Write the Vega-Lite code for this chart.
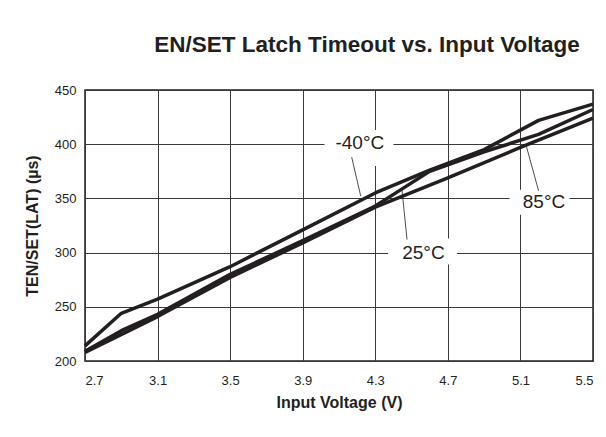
{
  "$schema": "https://vega.github.io/schema/vega-lite/v6.json",
  "autosize": {"type": "none"},
  "padding": {"left": 85, "top": 90, "right": 13, "bottom": 76},
  "width": 508,
  "height": 271,
  "background": "white",
  "title": {
    "text": "EN/SET Latch Timeout vs. Input Voltage",
    "font": "Liberation Sans",
    "fontSize": 22.5,
    "fontWeight": "bold",
    "color": "#231f20",
    "anchor": "middle",
    "dx": 28,
    "offset": 28
  },
  "config": {
    "view": {"stroke": "#231f20", "strokeWidth": 1.5},
    "axis": {
      "domain": false,
      "ticks": false,
      "grid": true,
      "gridColor": "#3a3a3a",
      "gridWidth": 1,
      "labelFont": "Liberation Sans",
      "labelFontSize": 13,
      "labelColor": "#231f20",
      "titleFont": "Liberation Sans",
      "titleFontSize": 16,
      "titleFontWeight": "bold",
      "titleColor": "#231f20"
    }
  },
  "datasets": {
    "curves": [
      {"series": "-40°C", "v": 2.7, "t": 214},
      {"series": "-40°C", "v": 2.9, "t": 244},
      {"series": "-40°C", "v": 3.1, "t": 257},
      {"series": "-40°C", "v": 3.5, "t": 287},
      {"series": "-40°C", "v": 3.9, "t": 321},
      {"series": "-40°C", "v": 4.3, "t": 355},
      {"series": "-40°C", "v": 4.6, "t": 376},
      {"series": "-40°C", "v": 4.9, "t": 395},
      {"series": "-40°C", "v": 5.2, "t": 422},
      {"series": "-40°C", "v": 5.5, "t": 437},
      {"series": "25°C", "v": 2.7, "t": 209},
      {"series": "25°C", "v": 2.9, "t": 228},
      {"series": "25°C", "v": 3.1, "t": 243},
      {"series": "25°C", "v": 3.5, "t": 280},
      {"series": "25°C", "v": 3.9, "t": 311},
      {"series": "25°C", "v": 4.3, "t": 343},
      {"series": "25°C", "v": 4.45, "t": 359},
      {"series": "25°C", "v": 4.6, "t": 375},
      {"series": "25°C", "v": 4.9, "t": 393},
      {"series": "25°C", "v": 5.2, "t": 409},
      {"series": "25°C", "v": 5.5, "t": 432},
      {"series": "85°C", "v": 2.7, "t": 208},
      {"series": "85°C", "v": 3.1, "t": 241},
      {"series": "85°C", "v": 3.5, "t": 277},
      {"series": "85°C", "v": 3.9, "t": 309},
      {"series": "85°C", "v": 4.3, "t": 342},
      {"series": "85°C", "v": 4.7, "t": 369},
      {"series": "85°C", "v": 5.1, "t": 397},
      {"series": "85°C", "v": 5.5, "t": 424}
    ],
    "boxes": [
      {"v1": 4.02, "v2": 4.4, "t1": 380, "t2": 413},
      {"v1": 4.37, "v2": 4.75, "t1": 289, "t2": 313},
      {"v1": 5.04, "v2": 5.37, "t1": 335, "t2": 358}
    ],
    "leaders": [
      {"v1": 4.17, "t1": 388, "v2": 4.22, "t2": 352},
      {"v1": 4.475, "t1": 312, "v2": 4.447, "t2": 358},
      {"v1": 5.2, "t1": 357, "v2": 5.133, "t2": 398}
    ],
    "labels": [
      {"label": "-40°C", "v": 4.215, "t": 401},
      {"label": "25°C", "v": 4.565, "t": 300},
      {"label": "85°C", "v": 5.23, "t": 347}
    ]
  },
  "layer": [
    {
      "data": {"name": "boxes"},
      "mark": {"type": "rect", "fill": "white", "stroke": null},
      "encoding": {
        "x": {"field": "v1", "type": "quantitative", "scale": {"domain": [2.7, 5.5], "nice": false, "zero": false},
          "axis": {"values": [2.7, 3.1, 3.5, 3.9, 4.3, 4.7, 5.1, 5.5], "format": ".1f", "title": "Input Voltage (V)", "labelPadding": 13, "titlePadding": 7}},
        "x2": {"field": "v2"},
        "y": {"field": "t1", "type": "quantitative", "scale": {"domain": [200, 450], "nice": false, "zero": false},
          "axis": {"values": [200, 250, 300, 350, 400, 450], "title": "TEN/SET(LAT) (µs)", "labelPadding": 9, "titlePadding": 14}},
        "y2": {"field": "t2"}
      }
    },
    {
      "data": {"name": "leaders"},
      "mark": {"type": "rule", "color": "#231f20", "strokeWidth": 0.8},
      "encoding": {
        "x": {"field": "v1", "type": "quantitative"},
        "x2": {"field": "v2"},
        "y": {"field": "t1", "type": "quantitative"},
        "y2": {"field": "t2"}
      }
    },
    {
      "data": {"name": "curves"},
      "mark": {"type": "line", "color": "#231f20", "strokeWidth": 3.5, "strokeJoin": "round"},
      "encoding": {
        "x": {"field": "v", "type": "quantitative"},
        "y": {"field": "t", "type": "quantitative"},
        "detail": {"field": "series", "type": "nominal"}
      }
    },
    {
      "data": {"name": "labels"},
      "mark": {"type": "text", "font": "Liberation Sans", "fontSize": 19, "color": "#231f20"},
      "encoding": {
        "x": {"field": "v", "type": "quantitative"},
        "y": {"field": "t", "type": "quantitative"},
        "text": {"field": "label"}
      }
    }
  ]
}
